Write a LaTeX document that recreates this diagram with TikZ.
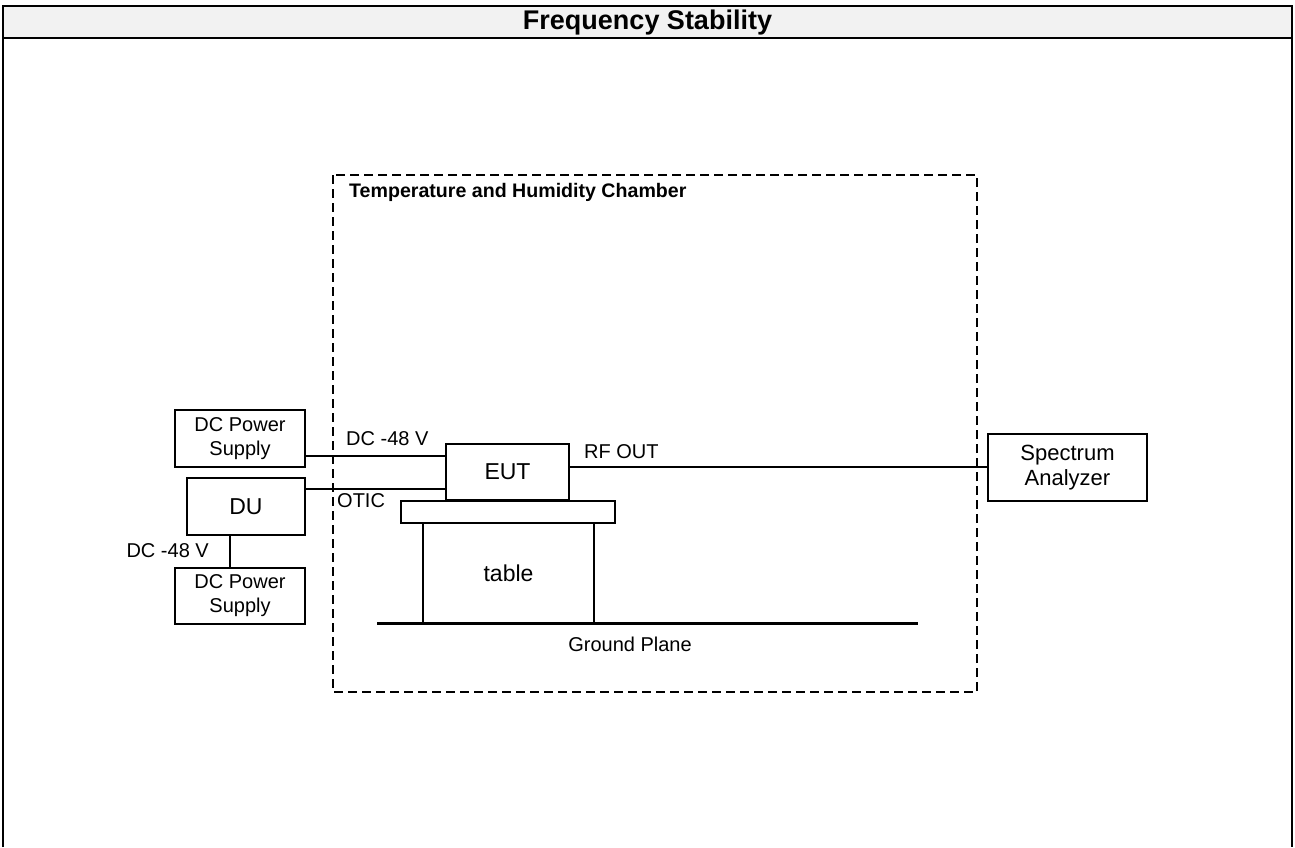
\documentclass[tikz,border=0pt]{standalone}
\usepackage{fontspec}
\setmainfont{Liberation Sans}
\begin{document}
\begin{tikzpicture}[x=1pt,y=-1pt,
  box/.style={draw, line width=1.1pt, inner sep=0pt, align=center, font=\fontsize{20}{24}\selectfont},
  bigtext/.style={font=\fontsize{23}{26}\selectfont},
  lbl/.style={inner sep=0pt, font=\fontsize{20}{24}\selectfont},
  wire/.style={line width=1.1pt},
  chamber/.style={line width=1.2pt, dash pattern=on 9pt off 5pt}]
\useasboundingbox (0,0) rectangle (1295,847);
% header
\fill[fill={rgb,255:red,242;green,242;blue,242}] (3,6) rectangle (1292,38);
\draw[line width=1.3pt] (3,847) -- (3,6) -- (1292,6) -- (1292,847);
\draw[line width=2.2pt] (3,38) -- (1292,38);
\node[inner sep=0pt, font=\fontsize{27}{30}\selectfont\bfseries] (title) at (647.5,23) {Frequency Stability};
% chamber
\draw[chamber] (333,175) rectangle (977,692);
\node[inner sep=0pt, anchor=west, font=\fontsize{19.6}{22}\selectfont\bfseries] (chlbl) at (349,192) {Temperature and Humidity Chamber};
% boxes
\node[box, minimum width=130pt, minimum height=57pt] (dc1) at (240,438.5) {DC Power\\Supply};
\node[box, bigtext, minimum width=118pt, minimum height=57pt] (du) at (246,506.5) {DU};
\node[box, minimum width=130pt, minimum height=56pt] (dc2) at (240,596) {DC Power\\Supply};
\node[box, bigtext, minimum width=123pt, minimum height=56pt] (eut) at (507.5,472) {EUT};
\node[box, minimum width=214pt, minimum height=22pt] (top) at (508,512) {};
\node[box, bigtext, minimum width=171pt, minimum height=100pt] (table) at (508.5,573) {table};
\node[box, font=\fontsize{22}{25}\selectfont, minimum width=159pt, minimum height=67pt] (sa) at (1067.5,467.5) {Spectrum\\Analyzer};
% ground plane
\coordinate (gpl) at (377,623);
\coordinate (gpr) at (918,623);
\draw[line width=3pt] (gpl) -- (gpr);
\node[lbl] (gplbl) at (630,644) {Ground Plane};
% wires
\coordinate (y1) at (0,456);
\coordinate (y2) at (0,489);
\coordinate (y3) at (0,467);
\coordinate (x4) at (230,0);
\draw[wire] (dc1.east |- y1) -- (eut.west |- y1);
\draw[wire] (du.east |- y2) -- (eut.west |- y2);
\draw[wire] (eut.east |- y3) -- (sa.west |- y3);
\draw[wire] (du.south -| x4) -- (dc2.north -| x4);
% labels
\node[lbl, anchor=west] (v1) at (346,439) {DC -48 V};
\node[lbl, anchor=west] (otic) at (337,501) {OTIC};
\node[lbl, anchor=east] (v2) at (209,551) {DC -48 V};
\node[lbl, anchor=west] (rf) at (584,452) {RF OUT};
\end{tikzpicture}
\end{document}
